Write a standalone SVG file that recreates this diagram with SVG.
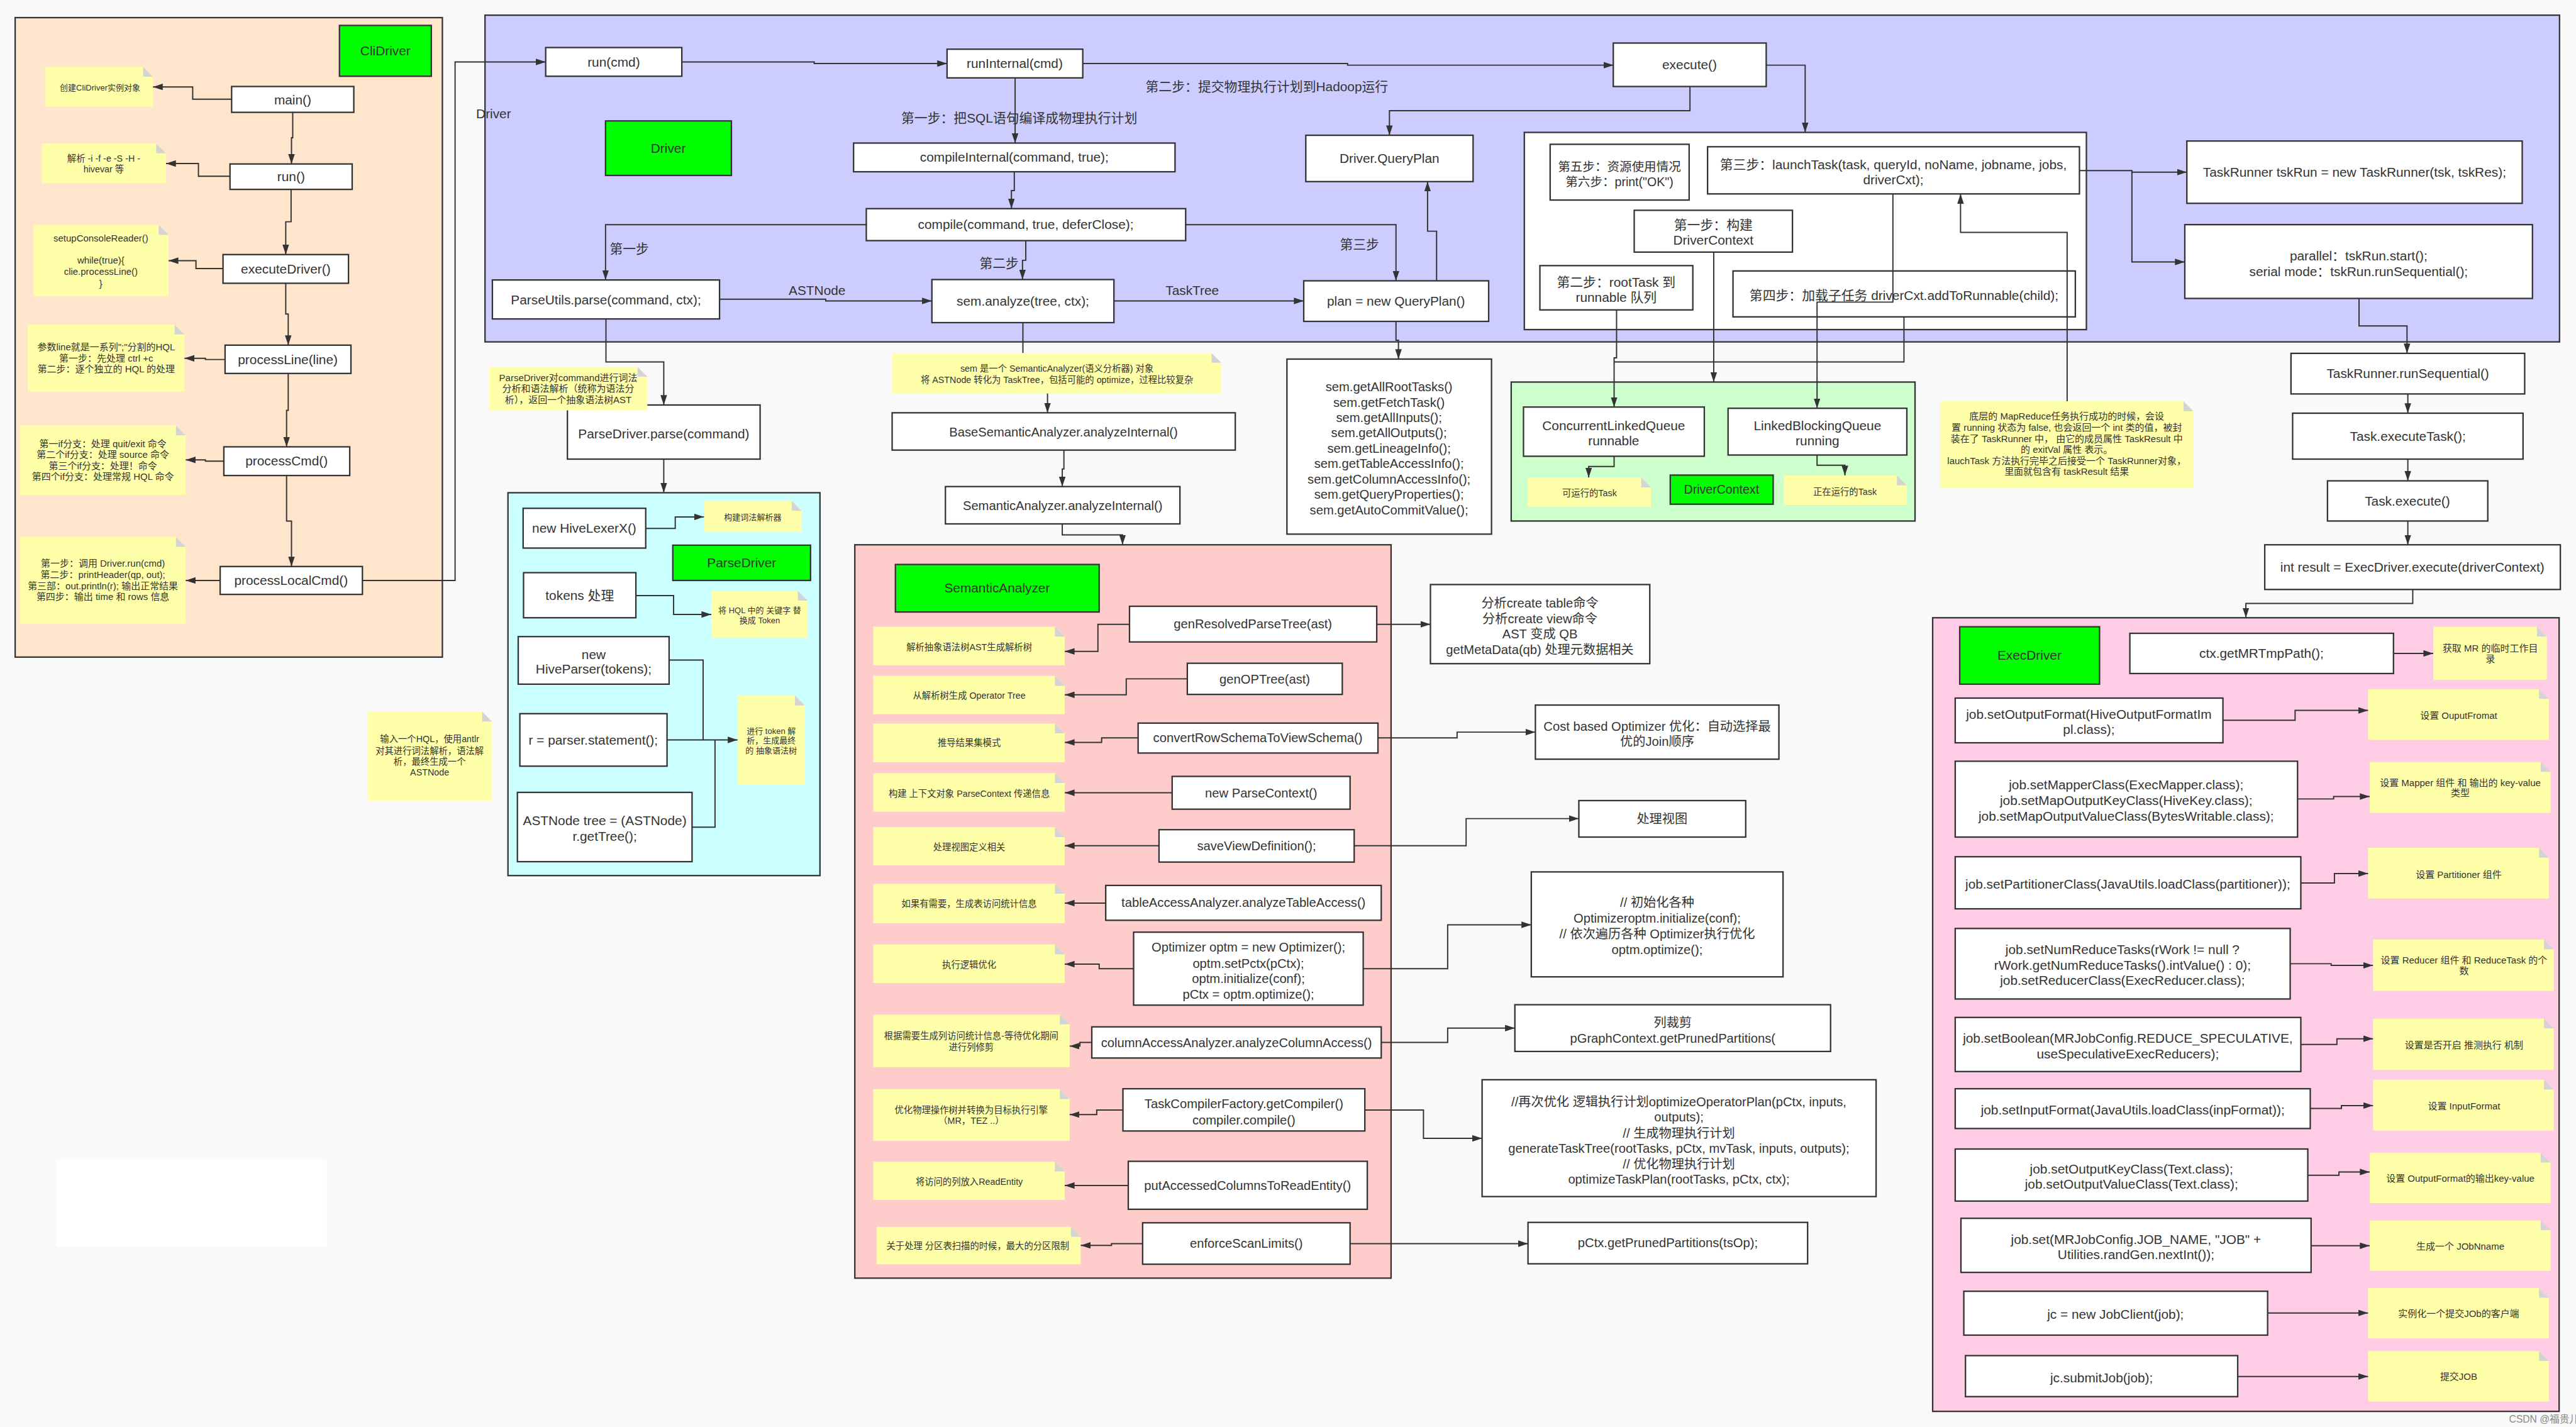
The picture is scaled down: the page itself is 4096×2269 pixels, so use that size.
<svg xmlns="http://www.w3.org/2000/svg" width="4096" height="2269" viewBox="0 0 4096 2269">
<defs>
<style>
text{font-family:"Liberation Sans","Noto Sans CJK SC",sans-serif;fill:#333;text-anchor:middle}
.a{font-size:32px}
.b{font-size:31px}
.q{font-size:30px}
.n{font-size:23px}
.m{font-size:22px}
.s{font-size:20px}
.bx{fill:#fff;stroke:#333;stroke-width:3.5}
.gr{fill:#00ff00;stroke:#333;stroke-width:3.5}
.nt{fill:#ffffaa}
.fd{fill:#d4d4d4}
.ln{fill:none;stroke:#333;stroke-width:3;marker-end:url(#ah)}
.pl{fill:none;stroke:#333;stroke-width:3}
.pn{stroke:#333;stroke-width:3.5}
.wm{font-size:24px;fill:#888;text-anchor:start}
</style>
<marker id="ah" markerWidth="24" markerHeight="16" refX="24" refY="8" orient="auto" markerUnits="userSpaceOnUse">
<path d="M0,0 L24,8 L0,16 z" fill="#333"/>
</marker>
</defs>
<rect width="4096" height="2269" fill="#f9f9f9"/>
<g transform="scale(0.6519,0.6518)">

<!-- containers -->
<rect id="cli-panel" class="pn" x="37" y="43" width="1042" height="1560" fill="#ffe5cc"/>
<rect id="driver-panel" class="pn" x="1183" y="37" width="5060" height="797" fill="#ccccff"/>
<rect id="task-panel" class="pn" x="3718" y="323" width="1371" height="481" fill="#fff"/>
<rect id="parse-panel" class="pn" x="1239" y="1202" width="761" height="934" fill="#ccffff"/>
<rect id="sem-panel" class="pn" x="2085" y="1329" width="1308" height="1789" fill="#ffcccc"/>
<rect id="ctx-panel" class="pn" x="3686" y="932" width="985" height="339" fill="#ccffcc"/>
<rect id="exec-panel" class="pn" x="4714" y="1507" width="1528" height="1936" fill="#ffcce6"/>
<rect id="blank" x="137" y="2828" width="660" height="213" fill="#fff"/>

<!-- CliDriver -->
<g id="cli-title"><rect class="gr" x="828" y="62" width="224" height="124"/><text class="a" x="940" y="135">CliDriver</text></g>
<g id="main"><rect class="bx" x="565" y="211" width="298" height="63"/><text class="a" x="714" y="254">main()</text></g>
<g id="run"><rect class="bx" x="561" y="400" width="298" height="62"/><text class="a" x="710" y="442">run()</text></g>
<g id="executeDriver"><rect class="bx" x="544" y="621" width="306" height="70"/><text class="a" x="697" y="667">executeDriver()</text></g>
<g id="processLine"><rect class="bx" x="549" y="842" width="307" height="69"/><text class="a" x="702" y="888">processLine(line)</text></g>
<g id="processCmd"><rect class="bx" x="546" y="1090" width="307" height="70"/><text class="a" x="699" y="1136">processCmd()</text></g>
<g id="processLocalCmd"><rect class="bx" x="537" y="1382" width="347" height="68"/><text class="a" x="710" y="1427">processLocalCmd()</text></g>

<g id="note-main"><polygon class="nt" points="111,163 349,163 373,187 373,260 111,260"/><polygon class="fd" points="349,163 349,187 373,187"/><text class="s" x="244" y="221">创建CliDriver实例对象</text></g>
<g id="note-run"><polygon class="nt" points="102,350 381,350 405,374 405,447 102,447"/><polygon class="fd" points="381,350 381,374 405,374"/><text class="m" x="253" y="394">解析 -i -f -e -S -H -</text><text class="m" x="253" y="421">hivevar 等</text></g>
<g id="note-exec"><polygon class="nt" points="82,549 387,549 411,573 411,722 82,722"/><polygon class="fd" points="387,549 387,573 411,573"/><text class="n" x="246" y="589">setupConsoleReader()</text><text class="n" x="246" y="643">while(true){</text><text class="n" x="246" y="670">clie.processLine()</text><text class="n" x="246" y="699">}</text></g>
<g id="note-line"><polygon class="nt" points="68,792 426,792 450,816 450,955 68,955"/><polygon class="fd" points="426,792 426,816 450,816"/><text class="n" x="259" y="855">参数line就是一系列";"分割的HQL</text><text class="n" x="259" y="882">第一步：先处理 ctrl +c</text><text class="n" x="259" y="909">第二步：逐个独立的 HQL 的处理</text></g>
<g id="note-cmd"><polygon class="nt" points="49,1038 429,1038 453,1062 453,1208 49,1208"/><polygon class="fd" points="429,1038 429,1062 453,1062"/><text class="n" x="251" y="1091">第一if分支：处理 quit/exit 命令</text><text class="n" x="251" y="1117">第二个if分支：处理 source 命令</text><text class="n" x="251" y="1144">第三个if分支：处理！命令</text><text class="n" x="251" y="1170">第四个if分支：处理常规 HQL 命令</text></g>
<g id="note-local"><polygon class="nt" points="49,1310 429,1310 453,1334 453,1521 49,1521"/><polygon class="fd" points="429,1310 429,1334 453,1334"/><text class="n" x="251" y="1383">第一步：调用 Driver.run(cmd)</text><text class="n" x="251" y="1410">第二步：printHeader(qp, out);</text><text class="n" x="251" y="1437">第三部：out.println(r); 输出正常结果</text><text class="n" x="251" y="1464">第四步：输出 time 和 rows 信息</text></g>
<g id="note-hql"><polygon class="nt" points="897,1736 1176,1736 1200,1760 1200,1953 897,1953"/><polygon class="fd" points="1176,1736 1176,1760 1200,1760"/><text class="m" x="1048" y="1811">输入一个HQL，使用antlr</text><text class="m" x="1048" y="1839">对其进行词法解析，语法解</text><text class="m" x="1048" y="1866">析，最终生成一个</text><text class="m" x="1048" y="1891">ASTNode</text></g>

<!-- Driver -->
<g id="runcmd"><rect class="bx" x="1331" y="116" width="332" height="70"/><text class="a" x="1497" y="162">run(cmd)</text></g>
<g id="runInternal"><rect class="bx" x="2310" y="120" width="331" height="70"/><text class="a" x="2475" y="166">runInternal(cmd)</text></g>
<g id="driver-title"><rect class="gr" x="1477" y="295" width="307" height="133"/><text class="a" x="1630" y="373">Driver</text></g>
<g id="compileInternal"><rect class="bx" x="2082" y="349" width="784" height="70"/><text class="a" x="2474" y="395">compileInternal(command, true);</text></g>
<g id="compile"><rect class="bx" x="2113" y="509" width="779" height="78"/><text class="a" x="2502" y="559">compile(command, true, deferClose);</text></g>
<g id="parseUtils"><rect class="bx" x="1201" y="683" width="554" height="95"/><text class="a" x="1478" y="742">ParseUtils.parse(command, ctx);</text></g>
<g id="semAnalyze"><rect class="bx" x="2273" y="682" width="444" height="105"/><text class="a" x="2495" y="746">sem.analyze(tree, ctx);</text></g>
<g id="queryPlan"><rect class="bx" x="3185" y="330" width="408" height="113"/><text class="a" x="3389" y="398">Driver.QueryPlan</text></g>
<g id="newPlan"><rect class="bx" x="3180" y="685" width="451" height="99"/><text class="a" x="3405" y="746">plan = new QueryPlan()</text></g>
<g id="execute"><rect class="bx" x="3935" y="105" width="373" height="106"/><text class="a" x="4121" y="169">execute()</text></g>
<g id="step56"><rect class="bx" x="3781" y="352" width="339" height="136"/><text class="q" x="3950" y="417">第五步：资源使用情况</text><text class="q" x="3950" y="454">第六步：print("OK")</text></g>
<g id="launchTask"><rect class="bx" x="4165" y="358" width="907" height="115"/><text class="a" x="4618" y="413">第三步：launchTask(task, queryId, noName, jobname, jobs,</text><text class="a" x="4618" y="449">driverCxt);</text></g>
<g id="step1"><rect class="bx" x="3986" y="513" width="386" height="102"/><text class="a" x="4179" y="560">第一步：构建</text><text class="a" x="4179" y="597">DriverContext</text></g>
<g id="step2"><rect class="bx" x="3756" y="648" width="373" height="108"/><text class="a" x="3942" y="699">第二步：rootTask 到</text><text class="a" x="3942" y="736">runnable 队列</text></g>
<g id="step4"><rect class="bx" x="4227" y="661" width="835" height="112"/><text class="a" x="4644" y="732">第四步：加载子任务 driverCxt.addToRunnable(child);</text></g>
<g id="taskRunner"><rect class="bx" x="5334" y="344" width="818" height="152"/><text class="a" x="5743" y="431">TaskRunner tskRun = new TaskRunner(tsk, tskRes);</text></g>
<g id="parallel"><rect class="bx" x="5329" y="548" width="848" height="180"/><text class="a" x="5753" y="635">parallel：tskRun.start();</text><text class="a" x="5753" y="674">serial mode：tskRun.runSequential();</text></g>

<g id="labels">
<text class="a" x="1204" y="288">Driver</text>
<text class="a" x="2486" y="299">第一步：把SQL语句编译成物理执行计划</text>
<text class="a" x="3090" y="222">第二步：提交物理执行计划到Hadoop运行</text>
<text class="a" x="1535" y="618">第一步</text>
<text class="a" x="2437" y="653">第二步</text>
<text class="a" x="3316" y="607">第三步</text>
<text class="a" x="1993" y="720">ASTNode</text>
<text class="a" x="2908" y="720">TaskTree</text>
</g>

<!-- ParseDriver -->
<g id="parseDriverParse"><rect class="bx" x="1384" y="988" width="470" height="132"/><text class="a" x="1619" y="1069">ParseDriver.parse(command)</text></g>
<g id="note-parse"><polygon class="nt" points="1192,895 1555,895 1579,919 1579,1001 1192,1001"/><polygon class="fd" points="1555,895 1555,919 1579,919"/><text class="n" x="1386" y="929">ParseDriver对command进行词法</text><text class="n" x="1386" y="956">分析和语法解析（统称为语法分</text><text class="n" x="1386" y="983">析），返回一个抽象语法树AST</text></g>
<g id="lexer"><rect class="bx" x="1276" y="1240" width="299" height="97"/><text class="a" x="1425" y="1300">new HiveLexerX()</text></g>
<g id="note-lexer"><polygon class="nt" points="1717,1222 1931,1222 1955,1246 1955,1297 1717,1297"/><polygon class="fd" points="1931,1222 1931,1246 1955,1246"/><text class="s" x="1836" y="1269">构建词法解析器</text></g>
<g id="parseDriver-title"><rect class="gr" x="1641" y="1330" width="336" height="86"/><text class="a" x="1809" y="1384">ParseDriver</text></g>
<g id="tokens"><rect class="bx" x="1277" y="1397" width="274" height="110"/><text class="a" x="1414" y="1463">tokens 处理</text></g>
<g id="note-tokens"><polygon class="nt" points="1735,1441 1946,1441 1970,1465 1970,1556 1735,1556"/><polygon class="fd" points="1946,1441 1946,1465 1970,1465"/><text class="s" x="1853" y="1496">将 HQL 中的 关键字 替</text><text class="s" x="1853" y="1520">换成 Token</text></g>
<g id="hiveParser"><rect class="bx" x="1264" y="1553" width="368" height="116"/><text class="a" x="1448" y="1608">new</text><text class="a" x="1448" y="1643">HiveParser(tokens);</text></g>
<g id="statement"><rect class="bx" x="1268" y="1741" width="359" height="128"/><text class="a" x="1447" y="1816">r = parser.statement();</text></g>
<g id="astTree"><rect class="bx" x="1262" y="1933" width="426" height="169"/><text class="a" x="1475" y="2013">ASTNode tree = (ASTNode)</text><text class="a" x="1475" y="2051">r.getTree();</text></g>
<g id="note-ast"><polygon class="nt" points="1799,1697 1939,1697 1963,1721 1963,1913 1799,1913"/><polygon class="fd" points="1939,1697 1939,1721 1963,1721"/><text class="s" x="1881" y="1791">进行 token 解</text><text class="s" x="1881" y="1814">析，生成最终</text><text class="s" x="1881" y="1838">的 抽象语法树</text></g>

<!-- Semantic analysis -->
<g id="note-sem"><polygon class="nt" points="2176,861 2955,861 2979,885 2979,960 2176,960"/><polygon class="fd" points="2955,861 2955,885 2979,885"/><text class="m" x="2578" y="907">sem 是一个 SemanticAnalyzer(语义分析器) 对象</text><text class="m" x="2578" y="934">将 ASTNode 转化为 TaskTree，包括可能的 optimize，过程比较复杂</text></g>
<g id="baseSem"><rect class="bx" x="2176" y="1007" width="837" height="91"/><text class="b" x="2594" y="1064">BaseSemanticAnalyzer.analyzeInternal()</text></g>
<g id="semInternal"><rect class="bx" x="2306" y="1187" width="572" height="91"/><text class="b" x="2592" y="1244">SemanticAnalyzer.analyzeInternal()</text></g>
<g id="sem-title"><rect class="gr" x="2184" y="1377" width="497" height="116"/><text class="a" x="2432" y="1446">SemanticAnalyzer</text></g>

<g id="genResolved"><rect class="bx" x="2755" y="1479" width="603" height="87"/><text class="b" x="3056" y="1533">genResolvedParseTree(ast)</text></g>
<g id="genOP"><rect class="bx" x="2896" y="1618" width="378" height="76"/><text class="b" x="3085" y="1667">genOPTree(ast)</text></g>
<g id="convertRow"><rect class="bx" x="2776" y="1764" width="585" height="73"/><text class="b" x="3068" y="1811">convertRowSchemaToViewSchema()</text></g>
<g id="newParseContext"><rect class="bx" x="2859" y="1894" width="434" height="80"/><text class="b" x="3076" y="1945">new ParseContext()</text></g>
<g id="saveView"><rect class="bx" x="2827" y="2024" width="476" height="79"/><text class="b" x="3065" y="2074">saveViewDefinition();</text></g>
<g id="tableAccess"><rect class="bx" x="2697" y="2160" width="672" height="85"/><text class="b" x="3033" y="2213">tableAccessAnalyzer.analyzeTableAccess()</text></g>
<g id="optimizer"><rect class="bx" x="2765" y="2274" width="560" height="178"/><text class="b" x="3045" y="2322">Optimizer optm = new Optimizer();</text><text class="b" x="3045" y="2361">optm.setPctx(pCtx);</text><text class="b" x="3045" y="2398">optm.initialize(conf);</text><text class="b" x="3045" y="2436">pCtx = optm.optimize();</text></g>
<g id="columnAccess"><rect class="bx" x="2663" y="2505" width="706" height="76"/><text class="b" x="3016" y="2554">columnAccessAnalyzer.analyzeColumnAccess()</text></g>
<g id="taskCompiler"><rect class="bx" x="2739" y="2656" width="590" height="103"/><text class="b" x="3034" y="2703">TaskCompilerFactory.getCompiler()</text><text class="b" x="3034" y="2743">compiler.compile()</text></g>
<g id="putAccessed"><rect class="bx" x="2752" y="2833" width="583" height="117"/><text class="b" x="3043" y="2902">putAccessedColumnsToReadEntity()</text></g>
<g id="enforceScan"><rect class="bx" x="2787" y="2983" width="506" height="101"/><text class="b" x="3040" y="3044">enforceScanLimits()</text></g>

<g id="note-s1"><polygon class="nt" points="2130,1529 2573,1529 2597,1553 2597,1623 2130,1623"/><polygon class="fd" points="2573,1529 2573,1553 2597,1553"/><text class="m" x="2364" y="1587">解析抽象语法树AST生成解析树</text></g>
<g id="note-s2"><polygon class="nt" points="2130,1649 2573,1649 2597,1673 2597,1742 2130,1742"/><polygon class="fd" points="2573,1649 2573,1673 2597,1673"/><text class="m" x="2364" y="1705">从解析树生成 Operator Tree</text></g>
<g id="note-s3"><polygon class="nt" points="2130,1765 2573,1765 2597,1789 2597,1859 2130,1859"/><polygon class="fd" points="2573,1765 2573,1789 2597,1789"/><text class="m" x="2364" y="1820">推导结果集模式</text></g>
<g id="note-s4"><polygon class="nt" points="2130,1886 2573,1886 2597,1910 2597,1980 2130,1980"/><polygon class="fd" points="2573,1886 2573,1910 2597,1910"/><text class="m" x="2364" y="1944">构建 上下文对象 ParseContext 传递信息</text></g>
<g id="note-s5"><polygon class="nt" points="2130,2018 2573,2018 2597,2042 2597,2111 2130,2111"/><polygon class="fd" points="2573,2018 2573,2042 2597,2042"/><text class="m" x="2364" y="2074">处理视图定义相关</text></g>
<g id="note-s6"><polygon class="nt" points="2130,2156 2573,2156 2597,2180 2597,2252 2130,2252"/><polygon class="fd" points="2573,2156 2573,2180 2597,2180"/><text class="m" x="2364" y="2212">如果有需要，生成表访问统计信息</text></g>
<g id="note-s7"><polygon class="nt" points="2130,2304 2573,2304 2597,2328 2597,2398 2130,2398"/><polygon class="fd" points="2573,2304 2573,2328 2597,2328"/><text class="m" x="2364" y="2361">执行逻辑优化</text></g>
<g id="note-s8"><polygon class="nt" points="2130,2475 2585,2475 2609,2499 2609,2603 2130,2603"/><polygon class="fd" points="2585,2475 2585,2499 2609,2499"/><text class="m" x="2369" y="2534">根据需要生成列访问统计信息-等待优化期间</text><text class="m" x="2369" y="2562">进行列修剪</text></g>
<g id="note-s9"><polygon class="nt" points="2130,2657 2585,2657 2609,2681 2609,2783 2130,2783"/><polygon class="fd" points="2585,2657 2585,2681 2609,2681"/><text class="m" x="2369" y="2716">优化物理操作树并转换为目标执行引擎</text><text class="m" x="2369" y="2742">（MR，TEZ ..）</text></g>
<g id="note-s10"><polygon class="nt" points="2130,2834 2573,2834 2597,2858 2597,2927 2130,2927"/><polygon class="fd" points="2573,2834 2573,2858 2597,2858"/><text class="m" x="2364" y="2890">将访问的列放入ReadEntity</text></g>
<g id="note-s11"><polygon class="nt" points="2138,2993 2612,2993 2636,3017 2636,3084 2138,3084"/><polygon class="fd" points="2612,2993 2612,3017 2636,3017"/><text class="m" x="2385" y="3047">关于处理 分区表扫描的时候，最大的分区限制</text></g>

<g id="createInfo"><rect class="bx" x="3489" y="1426" width="535" height="193"/><text class="b" x="3756" y="1482">分析create table命令</text><text class="b" x="3756" y="1520">分析create view命令</text><text class="b" x="3756" y="1557">AST 变成 QB</text><text class="b" x="3756" y="1595">getMetaData(qb) 处理元数据相关</text></g>
<g id="cbo"><rect class="bx" x="3745" y="1720" width="594" height="132"/><text class="b" x="4042" y="1783">Cost based Optimizer 优化：自动选择最</text><text class="b" x="4042" y="1820">优的Join顺序</text></g>
<g id="viewInfo"><rect class="bx" x="3851" y="1953" width="407" height="89"/><text class="b" x="4054" y="2008">处理视图</text></g>
<g id="optInit"><rect class="bx" x="3735" y="2127" width="614" height="256"/><text class="b" x="4042" y="2213">// 初始化各种</text><text class="b" x="4042" y="2251">Optimizeroptm.initialize(conf);</text><text class="b" x="4042" y="2289">// 依次遍历各种 Optimizer执行优化</text><text class="b" x="4042" y="2327">optm.optimize();</text></g>
<g id="colPrune"><rect class="bx" x="3695" y="2451" width="770" height="114"/><text class="b" x="4080" y="2505">列裁剪</text><text class="b" x="4080" y="2543">pGraphContext.getPrunedPartitions(</text></g>
<g id="compileSteps"><rect class="bx" x="3615" y="2634" width="961" height="285"/><text class="b" x="4095" y="2699">//再次优化 逻辑执行计划optimizeOperatorPlan(pCtx, inputs,</text><text class="b" x="4095" y="2736">outputs);</text><text class="b" x="4095" y="2775">// 生成物理执行计划</text><text class="b" x="4095" y="2812">generateTaskTree(rootTasks, pCtx, mvTask, inputs, outputs);</text><text class="b" x="4095" y="2850">// 优化物理执行计划</text><text class="b" x="4095" y="2887">optimizeTaskPlan(rootTasks, pCtx, ctx);</text></g>
<g id="prunedPartitions"><rect class="bx" x="3727" y="2982" width="682" height="101"/><text class="b" x="4068" y="3043">pCtx.getPrunedPartitions(tsOp);</text></g>

<g id="semGetters"><rect class="bx" x="3139" y="876" width="499" height="427"/>
<text class="b" x="3388" y="955">sem.getAllRootTasks()</text>
<text class="b" x="3388" y="992">sem.getFetchTask()</text>
<text class="b" x="3388" y="1030">sem.getAllInputs();</text>
<text class="b" x="3388" y="1067">sem.getAllOutputs();</text>
<text class="b" x="3388" y="1105">sem.getLineageInfo();</text>
<text class="b" x="3388" y="1142">sem.getTableAccessInfo();</text>
<text class="b" x="3388" y="1180">sem.getColumnAccessInfo();</text>
<text class="b" x="3388" y="1217">sem.getQueryProperties();</text>
<text class="b" x="3388" y="1255">sem.getAutoCommitValue();</text></g>

<!-- DriverContext queues -->
<g id="runnableQueue"><rect class="bx" x="3716" y="993" width="441" height="120"/><text class="a" x="3936" y="1050">ConcurrentLinkedQueue</text><text class="a" x="3936" y="1086">runnable</text></g>
<g id="runningQueue"><rect class="bx" x="4215" y="996" width="436" height="114"/><text class="a" x="4433" y="1050">LinkedBlockingQueue</text><text class="a" x="4433" y="1086">running</text></g>
<g id="note-runnable"><polygon class="nt" points="3726,1165 4003,1165 4027,1189 4027,1237 3726,1237"/><polygon class="fd" points="4003,1165 4003,1189 4027,1189"/><text class="m" x="3877" y="1210">可运行的Task</text></g>
<g id="ctx-title"><rect class="gr" x="4074" y="1159" width="251" height="71"/><text class="q" x="4199" y="1205">DriverContext</text></g>
<g id="note-running"><polygon class="nt" points="4351,1160 4627,1160 4651,1184 4651,1232 4351,1232"/><polygon class="fd" points="4627,1160 4627,1184 4651,1184"/><text class="m" x="4500" y="1208">正在运行的Task</text></g>
<g id="note-result"><polygon class="nt" points="4732,979 5326,979 5350,1003 5350,1191 4732,1191"/><polygon class="fd" points="5326,979 5326,1003 5350,1003"/>
<text class="n" x="5041" y="1023">底层的 MapReduce任务执行成功的时候，会设</text>
<text class="n" x="5041" y="1051">置 running 状态为 false, 也会返回一个 int 类的值，被封</text>
<text class="n" x="5041" y="1078">装在了 TaskRunner 中， 由它的成员属性 TaskResult 中</text>
<text class="n" x="5041" y="1104">的 exitVal 属性 表示。</text>
<text class="n" x="5041" y="1132">lauchTask 方法执行完毕之后接受一个 TaskRunner对象，</text>
<text class="n" x="5041" y="1158">里面就包含有 taskResult 结果</text></g>

<!-- Task execution -->
<g id="runSequential"><rect class="bx" x="5588" y="862" width="570" height="99"/><text class="a" x="5873" y="922">TaskRunner.runSequential()</text></g>
<g id="executeTask"><rect class="bx" x="5592" y="1008" width="562" height="112"/><text class="a" x="5873" y="1075">Task.executeTask();</text></g>
<g id="taskExecute"><rect class="bx" x="5677" y="1173" width="391" height="98"/><text class="a" x="5872" y="1233">Task.execute()</text></g>
<g id="execDriverExecute"><rect class="bx" x="5524" y="1329" width="721" height="109"/><text class="a" x="5884" y="1394">int result = ExecDriver.execute(driverContext)</text></g>

<!-- ExecDriver -->
<g id="exec-title"><rect class="gr" x="4780" y="1529" width="341" height="140"/><text class="a" x="4950" y="1610">ExecDriver</text></g>
<g id="tmpPath"><rect class="bx" x="5195" y="1545" width="643" height="98"/><text class="a" x="5516" y="1605">ctx.getMRTmpPath();</text></g>
<g id="outputFormat"><rect class="bx" x="4769" y="1703" width="653" height="109"/><text class="a" x="5095" y="1753">job.setOutputFormat(HiveOutputFormatIm</text><text class="a" x="5095" y="1791">pl.class);</text></g>
<g id="mapper"><rect class="bx" x="4769" y="1857" width="835" height="185"/><text class="a" x="5186" y="1926">job.setMapperClass(ExecMapper.class);</text><text class="a" x="5186" y="1964">job.setMapOutputKeyClass(HiveKey.class);</text><text class="a" x="5186" y="2002">job.setMapOutputValueClass(BytesWritable.class);</text></g>
<g id="partitioner"><rect class="bx" x="4769" y="2090" width="843" height="127"/><text class="a" x="5190" y="2168">job.setPartitionerClass(JavaUtils.loadClass(partitioner));</text></g>
<g id="reducer"><rect class="bx" x="4769" y="2265" width="817" height="172"/><text class="a" x="5177" y="2328">job.setNumReduceTasks(rWork != null ?</text><text class="a" x="5177" y="2366">rWork.getNumReduceTasks().intValue() : 0);</text><text class="a" x="5177" y="2403">job.setReducerClass(ExecReducer.class);</text></g>
<g id="speculative"><rect class="bx" x="4769" y="2482" width="843" height="132"/><text class="a" x="5190" y="2544">job.setBoolean(MRJobConfig.REDUCE_SPECULATIVE,</text><text class="a" x="5190" y="2582">useSpeculativeExecReducers);</text></g>
<g id="inputFormat"><rect class="bx" x="4769" y="2656" width="866" height="97"/><text class="a" x="5202" y="2719">job.setInputFormat(JavaUtils.loadClass(inpFormat));</text></g>
<g id="outputKey"><rect class="bx" x="4769" y="2803" width="860" height="127"/><text class="a" x="5199" y="2863">job.setOutputKeyClass(Text.class);</text><text class="a" x="5199" y="2900">job.setOutputValueClass(Text.class);</text></g>
<g id="jobName"><rect class="bx" x="4783" y="2972" width="854" height="132"/><text class="a" x="5210" y="3034">job.set(MRJobConfig.JOB_NAME, "JOB" +</text><text class="a" x="5210" y="3072">Utilities.randGen.nextInt());</text></g>
<g id="jobClient"><rect class="bx" x="4790" y="3150" width="741" height="107"/><text class="a" x="5160" y="3218">jc = new JobClient(job);</text></g>
<g id="submitJob"><rect class="bx" x="4794" y="3307" width="664" height="100"/><text class="a" x="5126" y="3372">jc.submitJob(job);</text></g>

<g id="note-e1"><polygon class="nt" points="5935,1529 6188,1529 6212,1553 6212,1658 5935,1658"/><polygon class="fd" points="6188,1529 6188,1553 6212,1553"/><text class="n" x="6074" y="1589">获取 MR 的临时工作目</text><text class="n" x="6074" y="1615">录</text></g>
<g id="note-e2"><polygon class="nt" points="5776,1681 6193,1681 6217,1705 6217,1805 5776,1805"/><polygon class="fd" points="6193,1681 6193,1705 6217,1705"/><text class="n" x="5997" y="1754">设置 OuputFromat</text></g>
<g id="note-e3"><polygon class="nt" points="5780,1859 6197,1859 6221,1883 6221,1983 5780,1983"/><polygon class="fd" points="6197,1859 6197,1883 6221,1883"/><text class="n" x="6001" y="1918">设置 Mapper 组件 和 输出的 key-value</text><text class="n" x="6001" y="1943">类型</text></g>
<g id="note-e4"><polygon class="nt" points="5776,2068 6193,2068 6217,2092 6217,2192 5776,2192"/><polygon class="fd" points="6193,2068 6193,2092 6217,2092"/><text class="n" x="5997" y="2141">设置 Partitioner 组件</text></g>
<g id="note-e5"><polygon class="nt" points="5788,2292 6205,2292 6229,2316 6229,2417 5788,2417"/><polygon class="fd" points="6205,2292 6205,2316 6229,2316"/><text class="n" x="6010" y="2350">设置 Reducer 组件 和 ReduceTask 的个</text><text class="n" x="6010" y="2377">数</text></g>
<g id="note-e6"><polygon class="nt" points="5788,2485 6205,2485 6229,2509 6229,2610 5788,2610"/><polygon class="fd" points="6205,2485 6205,2509 6229,2509"/><text class="n" x="6010" y="2558">设置是否开启 推测执行 机制</text></g>
<g id="note-e7"><polygon class="nt" points="5788,2634 6205,2634 6229,2658 6229,2758 5788,2758"/><polygon class="fd" points="6205,2634 6205,2658 6229,2658"/><text class="n" x="6010" y="2706">设置 InputFormat</text></g>
<g id="note-e8"><polygon class="nt" points="5780,2812 6197,2812 6221,2836 6221,2935 5780,2935"/><polygon class="fd" points="6197,2812 6197,2836 6221,2836"/><text class="n" x="6001" y="2883">设置 OutputFormat的输出key-value</text></g>
<g id="note-e9"><polygon class="nt" points="5780,2977 6197,2977 6221,3001 6221,3100 5780,3100"/><polygon class="fd" points="6197,2977 6197,3001 6221,3001"/><text class="n" x="6001" y="3048">生成一个 JObNname</text></g>
<g id="note-e10"><polygon class="nt" points="5776,3142 6193,3142 6217,3166 6217,3265 5776,3265"/><polygon class="fd" points="6193,3142 6193,3166 6217,3166"/><text class="n" x="5997" y="3212">实例化一个提交JOb的客户端</text></g>
<g id="note-e11"><polygon class="nt" points="5776,3296 6193,3296 6217,3320 6217,3419 5776,3419"/><polygon class="fd" points="6193,3296 6193,3320 6217,3320"/><text class="n" x="5997" y="3366">提交JOB</text></g>

<text id="watermark" class="wm" x="6120" y="3470">CSDN @福贵儿</text>

<!-- connectors -->
<g id="connectors">
<path class="ln" d="M565,242 H470 V212 H373"/>
<path class="ln" d="M714,274 V336 H711 V400"/>
<path class="ln" d="M561,430 H484 V399 H405"/>
<path class="ln" d="M710,462 V541 H697 V621"/>
<path class="ln" d="M544,655 H478 V636 H411"/>
<path class="ln" d="M697,691 V766 H703 V842"/>
<path class="ln" d="M549,877 H501 V874 H450"/>
<path class="ln" d="M703,911 V1001 H699 V1090"/>
<path class="ln" d="M546,1125 H501 V1122 H453"/>
<path class="ln" d="M699,1160 V1271 H711 V1382"/>
<path class="ln" d="M537,1416 H453"/>
<path class="ln" d="M884,1416 H1110 V151 H1331"/>
<path class="ln" d="M1663,151 H1986 V155 H2310"/>
<path class="ln" d="M2476,190 V349"/>
<path class="ln" d="M2641,155 H3287 V159 H3935"/>
<path class="ln" d="M2474,419 V465 H2467 V509"/>
<path class="ln" d="M2113,548 H1477 V683"/>
<path class="ln" d="M2502,587 V635 H2494 V682"/>
<path class="ln" d="M2892,548 H3405 V685"/>
<path class="ln" d="M1755,730 H2014 V734 H2273"/>
<path class="ln" d="M2717,734 H3180"/>
<path class="ln" d="M3504,685 V564 H3482 V443"/>
<path class="ln" d="M3405,784 V830 H3411 V876"/>
<path class="ln" d="M4122,211 V270 H3389 V330"/>
<path class="ln" d="M4308,159 H4403 V323"/>
<path class="ln" d="M5072,416 H5200 V420 H5334"/>
<path class="ln" d="M5200,420 V639 H5329"/>
<path class="ln" d="M5754,728 V795 H5871 V862"/>
<path class="ln" d="M5042,979 V567 H4782 V473"/>
<path class="ln" d="M3943,756 V873 H3937 V993"/>
<path class="pl" d="M4644,773 V883 H3937"/>
<path class="ln" d="M4180,615 V932"/>
<path class="ln" d="M4617,473 V737 H4432 V996"/>
<path class="ln" d="M3937,1113 V1138 H3875 V1165"/>
<path class="ln" d="M4432,1110 V1135 H4500 V1160"/>
<path class="ln" d="M1478,778 V883 H1619 V988"/>
<path class="ln" d="M1619,1120 V1202"/>
<path class="ln" d="M1575,1289 H1647 V1261 H1717"/>
<path class="ln" d="M1551,1453 H1643 V1499 H1735"/>
<path class="ln" d="M1632,1610 H1715 V1805 H1799"/>
<path class="pl" d="M1627,1805 H1715"/>
<path class="pl" d="M1688,2018 H1744 V1805"/>
<path class="pl" d="M2495,787 V861"/>
<path class="ln" d="M2555,960 V1007"/>
<path class="ln" d="M2595,1098 V1144 H2591 V1187"/>
<path class="ln" d="M2591,1278 V1305 H2738 V1329"/>
<path class="ln" d="M2755,1523 H2678 V1589 H2597"/>
<path class="ln" d="M3358,1523 H3489"/>
<path class="ln" d="M2896,1656 H2747 V1695 H2597"/>
<path class="ln" d="M2776,1800 H2687 V1811 H2597"/>
<path class="ln" d="M3361,1800 H3554 V1786 H3745"/>
<path class="ln" d="M2859,1934 H2597"/>
<path class="ln" d="M2827,2063 H2597"/>
<path class="ln" d="M3303,2063 H3576 V1997 H3851"/>
<path class="ln" d="M2697,2203 H2597"/>
<path class="ln" d="M2765,2363 H2681 V2352 H2597"/>
<path class="ln" d="M3325,2363 H3531 V2256 H3735"/>
<path class="ln" d="M2663,2543 H2634 V2552 H2609"/>
<path class="ln" d="M3369,2543 H3531 V2508 H3695"/>
<path class="ln" d="M2739,2708 H2675 V2719 H2609"/>
<path class="ln" d="M3329,2708 H3472 V2777 H3615"/>
<path class="ln" d="M2752,2892 H2597"/>
<path class="ln" d="M2787,3034 H2711 V3038 H2636"/>
<path class="ln" d="M3293,3034 H3727"/>
<path class="ln" d="M5873,961 V1008"/>
<path class="ln" d="M5873,1120 V1173"/>
<path class="ln" d="M5873,1271 V1329"/>
<path class="ln" d="M5885,1438 V1472 H5478 V1507"/>
<path class="ln" d="M5838,1594 H5935"/>
<path class="ln" d="M5422,1757 H5598 V1733 H5776"/>
<path class="ln" d="M5604,1949 H5692 V1943 H5780"/>
<path class="ln" d="M5612,2154 H5694 V2131 H5776"/>
<path class="ln" d="M5586,2351 H5686 V2355 H5788"/>
<path class="ln" d="M5612,2548 H5700 V2534 H5788"/>
<path class="ln" d="M5635,2704 H5711 V2697 H5788"/>
<path class="ln" d="M5629,2867 H5705 V2859 H5780"/>
<path class="ln" d="M5637,3039 H5780"/>
<path class="ln" d="M5531,3203 H5776"/>
<path class="ln" d="M5458,3358 H5776"/>
</g>
</g>
</svg>
